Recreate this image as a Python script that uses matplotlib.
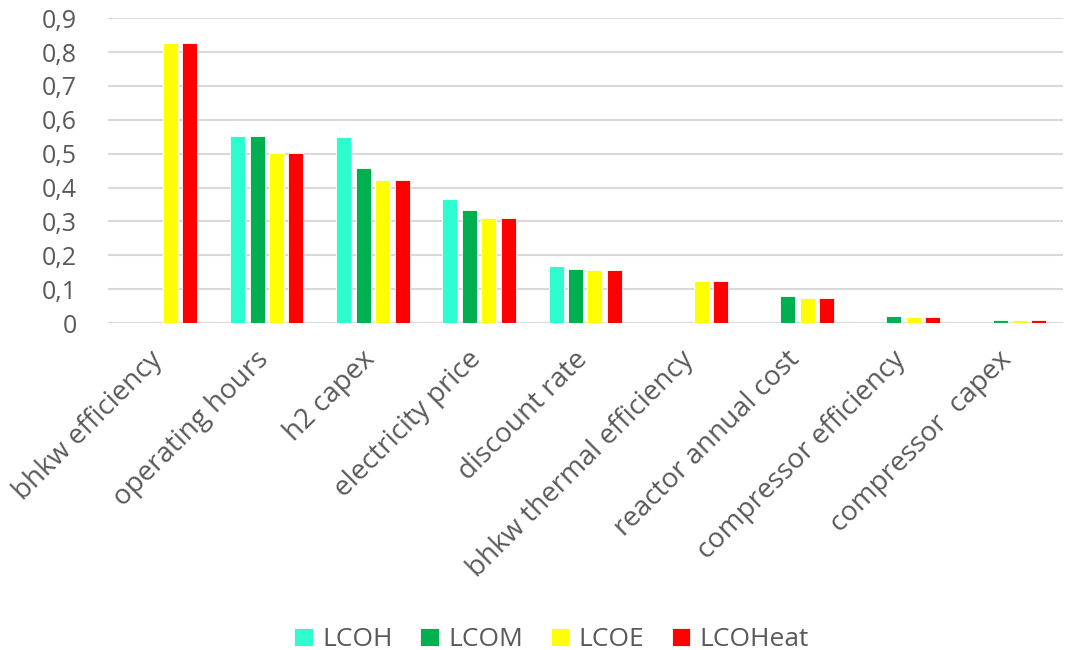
import matplotlib.pyplot as plt
import matplotlib.transforms as mtransforms
import numpy as np

plt.rcParams['font.family'] = ['Open Sans', 'DejaVu Sans']

categories = ['bhkw efficiency', 'operating hours', 'h2 capex', 'electricity price',
              'discount rate', 'bhkw thermal efficiency', 'reactor annual cost',
              'compressor efficiency', 'compressor  capex']
lcoh = [0, 0.552, 0.549, 0.366, 0.168, 0, 0, 0, 0]
lcom = [0, 0.552, 0.457, 0.333, 0.159, 0, 0.081, 0.021, 0.009]
lcoe = [0.826, 0.502, 0.422, 0.310, 0.156, 0.124, 0.075, 0.018, 0.008]
lcoheat = [0.826, 0.502, 0.422, 0.310, 0.156, 0.124, 0.075, 0.018, 0.008]
series_names = ['LCOH', 'LCOM', 'LCOE', 'LCOHeat']
colors = ['#2CFCCE', '#00B050', '#FFFF00', '#FF0000']
yticks = [0, 0.1, 0.2, 0.3, 0.4, 0.5, 0.6, 0.7, 0.8, 0.9]

text_color = '#595959'

fig = plt.figure(figsize=(10.65, 6.5), dpi=100)
ax = fig.add_axes([0.101, 0.503, 0.897, 0.469])

x = np.arange(len(categories))
slot = 0.183
width = 0.142
for i, (vals, name, c) in enumerate(zip([lcoh, lcom, lcoe, lcoheat], series_names, colors)):
    ax.bar(x + (i - 1.5) * slot, vals, width, color=c, label=name,
           edgecolor='white', linewidth=0.6, zorder=3)

ax.set_xlim(-0.5, len(categories) - 0.5)
ax.set_ylim(0, 0.9)
ax.set_yticks(yticks)
ax.set_yticklabels([f'{v:.1f}'.replace('.', ',') if v else '0' for v in yticks])
ax.grid(axis='y', color='#d9d9d9', linewidth=1.5, zorder=0)
for s in ax.spines.values():
    s.set_visible(False)
ax.tick_params(axis='both', length=0, colors=text_color)
ax.tick_params(axis='y', pad=22, labelsize=18)
ax.tick_params(axis='x', pad=22, labelsize=20)
ax.set_xticks(x)
ax.set_xticklabels(categories, rotation=45, ha='right', va='center', rotation_mode='anchor')
# nudge the slanted labels so their ends sit under the group centres
shift = mtransforms.ScaledTranslation(-2 / 100, -2 / 100, fig.dpi_scale_trans)
for lab in ax.get_xticklabels():
    lab.set_transform(lab.get_transform() + shift)

leg = fig.legend(loc='center', bbox_to_anchor=(0.518, 0.016), ncol=4, frameon=False,
                 fontsize=19, handlelength=0.7, handleheight=0.7, handletextpad=0.35,
                 columnspacing=1.05)
for t in leg.get_texts():
    t.set_color(text_color)

fig.savefig('out.png', dpi=100)
